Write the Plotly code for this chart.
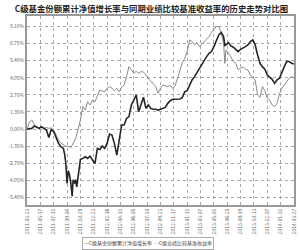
import plotly.graph_objects as go

title = "C级基金份额累计净值增长率与同期业绩比较基准收益率的历史走势对比图"
name_fund = "C级基金份额累计净值增长率"
name_bench = "C级业绩比较基准收益率"

dates = [
    "2011-03-23", "2011-04-02", "2011-04-12", "2011-04-22", "2011-05-02", "2011-05-12",
    "2011-05-22", "2011-06-01", "2011-06-11", "2011-06-21", "2011-07-01", "2011-07-11",
    "2011-07-21", "2011-07-31", "2011-08-10", "2011-08-20", "2011-08-25", "2011-08-30",
    "2011-09-04", "2011-09-09", "2011-09-14", "2011-09-19", "2011-09-25", "2011-09-29",
    "2011-10-04", "2011-10-09", "2011-10-14", "2011-10-19", "2011-10-24", "2011-10-29",
    "2011-11-08", "2011-11-18", "2011-11-28", "2011-12-08", "2011-12-18", "2011-12-28",
    "2012-01-07", "2012-01-17", "2012-01-27", "2012-02-06", "2012-02-16", "2012-02-26",
    "2012-03-07", "2012-03-17", "2012-03-27", "2012-04-06", "2012-04-16", "2012-04-26",
    "2012-05-06", "2012-05-16", "2012-05-26", "2012-06-05", "2012-06-15", "2012-06-25",
    "2012-07-05", "2012-07-15", "2012-07-25", "2012-08-04", "2012-08-14", "2012-08-24",
    "2012-09-03", "2012-09-13", "2012-09-23", "2012-10-03", "2012-10-13", "2012-10-23",
    "2012-11-02", "2012-11-12", "2012-11-22", "2012-12-02", "2012-12-12", "2012-12-22",
    "2013-01-01", "2013-01-11", "2013-01-21", "2013-01-31", "2013-02-10", "2013-02-20",
    "2013-03-02", "2013-03-12", "2013-03-22", "2013-04-01", "2013-04-11", "2013-04-21",
    "2013-05-01", "2013-05-11", "2013-05-21", "2013-05-31", "2013-06-10", "2013-06-15",
    "2013-06-20", "2013-06-30", "2013-07-10", "2013-07-20", "2013-07-30", "2013-08-09",
    "2013-08-19", "2013-08-29", "2013-09-08", "2013-09-18", "2013-09-28", "2013-10-08",
    "2013-10-18", "2013-10-28", "2013-11-07", "2013-11-17", "2013-11-27", "2013-12-07",
    "2013-12-17", "2013-12-27", "2014-01-06", "2014-01-16", "2014-01-26", "2014-02-05",
    "2014-02-15", "2014-02-25", "2014-03-07", "2014-03-17", "2014-03-27",
]

fund = [
    0.00, 0.05, 0.05, 0.24, 0.13, 0.05,
    0.18, 0.05, -0.08, -0.66, -0.03, -0.21,
    -0.74, -1.13, -1.40, -1.53, -1.99, -2.70,
    -4.30, -3.30, -3.60, -4.20, -5.30, -4.00,
    -4.30, -4.00, -4.56, -3.90, -3.00, -2.40,
    -2.32, -2.19, -2.32, -2.14, -2.45, -2.72,
    -1.53, -1.61, -1.34, -1.53, -1.13, -0.40,
    -0.47, -1.13, -2.06, -0.87, 0.32, 0.32,
    0.84, 0.98, 1.90, 2.29, 2.69, 1.37,
    1.90, 2.51, 1.63, 1.90, 1.63, 1.56,
    1.56, 1.50, 1.56, 1.63, 1.71, 2.03,
    2.24, 2.35, 2.35, 2.40, 2.37, 2.50,
    2.95, 3.03, 3.48, 3.88, 4.14, 4.46,
    4.80, 5.19, 5.46, 5.72, 5.99, 6.12,
    6.51, 6.91, 7.44, 7.62, 7.30, 6.60,
    6.65, 6.83, 6.57, 6.46, 6.25, 6.12,
    6.30, 6.38, 6.51, 6.65, 6.91, 7.04,
    6.65, 5.85, 5.19, 4.93, 4.72, 4.27,
    4.09, 3.93, 3.61, 3.88, 4.01, 4.54,
    4.93, 5.33, 5.33, 5.19, 5.14,
]

bench = [
    0.00, 0.55, 0.71, 0.35, 0.18, 0.10,
    0.18, 0.05, 0.13, 0.05, 0.10, -0.08,
    -0.47, -0.90, -1.10, -1.27, -1.30, -1.35,
    -1.35, -1.35, -1.40, -1.48, -1.30, -1.13,
    -0.95, -0.75, -0.45, -0.08, 0.30, 0.71,
    1.77, 1.50, 2.16, 1.90, 2.29, 2.16,
    2.69, 3.09, 3.00, 2.95, 3.22, 3.35,
    3.22, 3.03, 3.22, 2.95, 3.30, 3.48,
    4.14, 4.93, 4.67, 4.40, 4.56, 4.40,
    4.54, 4.50, 4.27, 4.01, 3.75, 3.61,
    3.35, 2.82, 3.22, 3.48, 3.40, 3.35,
    3.45, 3.22, 3.40, 4.01, 4.67, 5.25,
    5.59, 6.12, 7.04, 6.91, 6.65, 6.83,
    6.51, 6.72, 6.91, 7.09, 7.30, 7.62,
    7.88, 8.10, 8.10, 7.62, 6.78, 5.19,
    6.25, 5.99, 5.72, 5.33, 5.19, 4.67,
    4.80, 4.93, 4.72, 4.67, 4.27, 4.09,
    3.88, 2.69, 2.50, 3.35, 3.03, 2.43,
    2.29, 1.90, 1.77, 2.03, 2.77, 3.22,
    3.48, 3.74, 4.01, 4.14, 4.01,
]

x_ticks = [
    "2011-03-23", "2011-05-17", "2011-07-11", "2011-09-04", "2011-10-29", "2011-12-23",
    "2012-02-16", "2012-04-11", "2012-06-05", "2012-07-30", "2012-09-23", "2012-11-17",
    "2013-01-11", "2013-03-07", "2013-05-01", "2013-06-25", "2013-08-19", "2013-10-13",
    "2013-12-07", "2014-01-31", "2014-03-27",
]
y_ticks = [8.10, 6.75, 5.40, 4.05, 2.70, 1.35, 0.00, -1.35, -2.70, -4.05, -5.40]
y_labels = ["8.10%", "6.75%", "5.40%", "4.05%", "2.70%", "1.35%", "0.00%",
            "-1.35%", "-2.70%", "-4.05%", "-5.40%"]

fig = go.Figure()
fig.add_trace(go.Scatter(x=dates, y=bench, mode="lines", name=name_bench,
                         line=dict(color="#8a8a8a", width=1), showlegend=False))
fig.add_trace(go.Scatter(x=dates, y=fund, mode="lines", name=name_fund,
                         line=dict(color="#262626", width=1.6), showlegend=False))

axis_font = dict(family="Noto Sans CJK SC, sans-serif", size=5, color="#666")
fig.update_layout(
    width=300, height=250,
    margin=dict(l=27, r=3, t=16, b=45),
    paper_bgcolor="white", plot_bgcolor="white",
    title=dict(text="<b>" + title + "</b>", x=0.505, xanchor="center", y=0.962, yanchor="middle",
               font=dict(family="Noto Sans CJK SC, sans-serif", size=8.4, color="#222")),
    xaxis=dict(type="date", range=["2011-03-23", "2014-03-27"],
               tickmode="array", tickvals=x_ticks, ticktext=x_ticks, tickangle=-90,
               tickfont=axis_font, showgrid=True, gridcolor="#a8a8a8", griddash="dot", gridwidth=0.8,
               showline=True, linecolor="#999", linewidth=1.5, mirror=True, ticks="", zeroline=False),
    yaxis=dict(range=[-6.0, 8.93], tickmode="array", tickvals=y_ticks, ticktext=y_labels,
               tickfont=axis_font, showgrid=True, gridcolor="#a8a8a8", griddash="dot", gridwidth=0.8,
               showline=True, linecolor="#999", linewidth=1.5, mirror=True, ticks="", zeroline=False),
    annotations=[dict(
        xref="paper", yref="paper", x=0.455, y=-0.206, xanchor="center", yanchor="middle",
        text=("<span style='color:#2e2e2e'>—</span>" + name_fund +
              "  <span style='color:#8a8a8a'>—</span>" + name_bench),
        showarrow=False, font=dict(family="Noto Sans CJK SC, sans-serif", size=5, color="#444"),
        bordercolor="#999", borderwidth=0.8, borderpad=1.5, bgcolor="white")],
)

fig.write_html("out.html")
